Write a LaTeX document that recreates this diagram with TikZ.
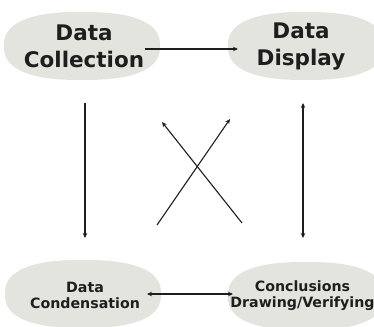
\documentclass[tikz,border=0pt]{standalone}
\usepackage{fontspec}
\setmainfont{DejaVu Sans}
\usetikzlibrary{arrows.meta}
\definecolor{blobfill}{HTML}{E4E4DF}
\definecolor{ink}{HTML}{1E1E1E}
\tikzset{
  pics/blobshape/.style={code={
    \fill[blobfill] plot[domain=1:361, samples=121, variable=\t]
      ({78*sign(cos(\t))*(abs(cos(\t))+0.00001)^0.8},{34*sign(sin(\t))*(abs(sin(\t))+0.00001)^0.8}) -- cycle;}},
  blob/.style={inner sep=0pt, align=center, text=ink, font=\bfseries\fontsize{21.5}{27}\selectfont},
  smallblob/.style={blob, font=\bfseries\fontsize{14.2}{16.5}\selectfont},
  conn/.style={draw=ink, line width=1.1pt, -{Stealth[length=5pt,width=4.5pt]}},
  bconn/.style={draw=ink, line width=1.1pt, {Stealth[length=5pt,width=4.5pt]}-{Stealth[length=5pt,width=4.5pt]}}
}
\begin{document}
\begin{tikzpicture}[x=1pt,y=-1pt]
\useasboundingbox[fill=white] (0,0) rectangle (374,326);
\pic at (82,46) {blobshape};
\pic at (306,46) {blobshape};
\pic at (83,294) {blobshape};
\pic at (306,296) {blobshape};
\node[blob] (dc) at (84,46.5) {Data\\Collection};
\node[blob] (dd) at (301,46.5) {Data\\Display};
\node[smallblob] (dn) at (85,295.5) {Data\\Condensation};
\node[smallblob] (cv) at (302.5,295.5) {Conclusions\\Drawing/Verifying};
\coordinate (a1) at (145,49);
\coordinate (a2) at (238,49);
\coordinate (b1) at (147,294);
\coordinate (b2) at (233,294);
\coordinate (l1) at (85,103);
\coordinate (l2) at (85,238);
\coordinate (r1) at (303,103);
\coordinate (r2) at (303,238);
\coordinate (x1) at (157,225);
\coordinate (x2) at (230,119);
\coordinate (y1) at (242,223);
\coordinate (y2) at (162,122);
\draw[conn] (a1) -- (a2);
\draw[bconn] (b1) -- (b2);
\draw[conn] (l1) -- (l2);
\draw[bconn] (r1) -- (r2);
\draw[conn] (x1) -- (x2);
\draw[conn] (y1) -- (y2);
\end{tikzpicture}
\end{document}
